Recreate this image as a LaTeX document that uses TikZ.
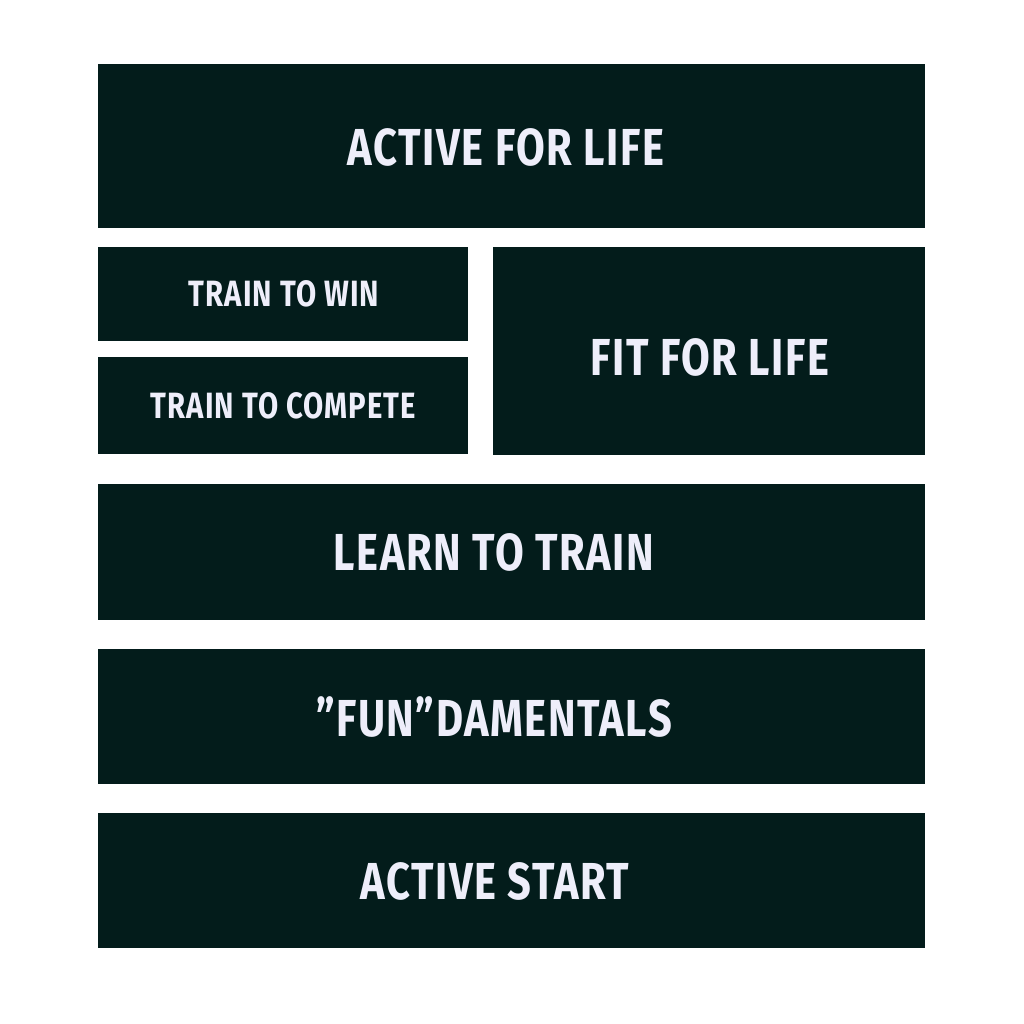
\documentclass[tikz,border=0pt]{standalone}
\usepackage{fontspec}
\setmainfont{Fira Sans}[UprightFont=* Bold, FakeStretch=0.8, LetterSpace=3]
\usepackage{tikz}
\definecolor{stagegreen}{HTML}{031C1B}
\definecolor{stagelabel}{HTML}{EEEEFA}
\tikzset{
  stagebox/.style={fill=stagegreen, draw=none},
  biglabel/.style={text=stagelabel, font=\fontsize{14.8}{16}\selectfont, inner sep=0pt},
  smalllabel/.style={text=stagelabel, font=\fontsize{10.4}{12}\selectfont, inner sep=0pt}
}
\begin{document}
\begin{tikzpicture}[x=0.01cm,y=-0.01cm]
   \useasboundingbox[fill=white] (0,0) rectangle (1024,1024);
   % stage boxes
   \path[stagebox] (98,64) rectangle (925,228);
   \path[stagebox] (98,247) rectangle (468,341);
   \path[stagebox] (98,357) rectangle (468,454);
   \path[stagebox] (493,247) rectangle (925,455);
   \path[stagebox] (98,484) rectangle (925,620);
   \path[stagebox] (98,649) rectangle (925,784);
   \path[stagebox] (98,813) rectangle (925,948);
   % stage names
   \node[biglabel] (afl) at (506,147) {ACTIVE FOR LIFE};
   \node[smalllabel] (ttw) at (284,294) {TRAIN TO WIN};
   \node[smalllabel] (ttc) at (283.5,406) {TRAIN TO COMPETE};
   \node[biglabel] (ffl) at (710,357) {FIT FOR LIFE};
   \node[biglabel] (ltt) at (494,552) {LEARN TO TRAIN};
   \node[biglabel] (fun) at (494,717) {”FUN”DAMENTALS};
   \node[biglabel] (ast) at (495,881) {ACTIVE START};
\end{tikzpicture}
\end{document}
